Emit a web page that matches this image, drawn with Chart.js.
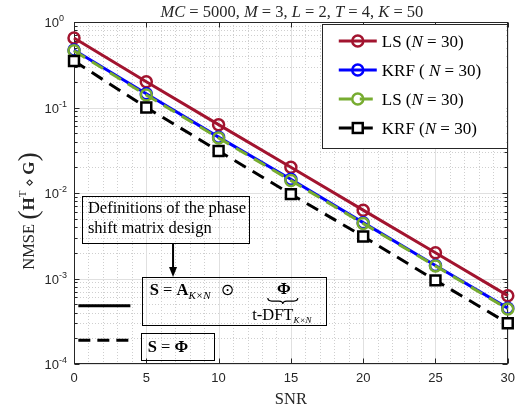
<!DOCTYPE html>
<html>
<head>
<meta charset="utf-8">
<script src="https://cdn.jsdelivr.net/npm/chart.js@4.4.1/dist/chart.umd.min.js"></script>
<style>
  html, body { margin: 0; padding: 0; background: #fff; }
  #wrap { width: 522px; height: 407px; }
</style>
</head>
<body>
<div id="wrap"><canvas id="c" width="522" height="407"></canvas></div>
<script>
// ---- data ----
const snr = [0, 5, 10, 15, 20, 25, 30];
const lsSolid = [0.65, 0.20, 0.063, 0.020, 0.0063, 0.0020, 0.00063];
const krfSolid = [0.47, 0.145, 0.045, 0.0145, 0.0045, 0.00142, 0.00045];
const lsDashed = [0.46, 0.14, 0.044, 0.014, 0.0044, 0.0014, 0.00044];
const krfDashed = [0.35, 0.10, 0.031, 0.0097, 0.0031, 0.00095, 0.00030];
const yDecades = [-4, -3, -2, -1, 0];
const xTicks = [0, 5, 10, 15, 20, 25, 30];

const SERIF = '"Liberation Serif", "DejaVu Serif", serif';
const SANS = '"Liberation Sans", Arial, sans-serif';
const AXIS = '#262626';
const RED = '#A2142F', BLUE = '#0000FF', GREEN = '#77AC30', BLACK = '#000000';

function pts(vals) {
    return snr.map((s, i) => ({ x: s, y: vals[i] }));
}

// draws a list of [text, font, dy] pieces, returns width
function drawRich(ctx, segs, x, y, align) {
    let w = 0;
    segs.forEach(s => { ctx.font = s[1]; w += ctx.measureText(s[0]).width; });
    let cx = align === 'center' ? x - w / 2 : (align === 'right' ? x - w : x);
    segs.forEach(s => {
        ctx.font = s[1];
        ctx.fillText(s[0], cx, y + (s[2] || 0));
        cx += ctx.measureText(s[0]).width;
    });
    return w;
}

function seg(ctx, x1, y1, x2, y2) {
    ctx.beginPath();
    ctx.moveTo(x1, y1);
    ctx.lineTo(x2, y2);
    ctx.stroke();
}

const datasets = [
    { label: 'LS (N = 30)', data: pts(lsSolid), color: RED, dash: [], style: 'circle', order: 4 },
    { label: 'KRF ( N = 30)', data: pts(krfSolid), color: BLUE, dash: [], style: 'circle', order: 3 },
    { label: 'LS (N = 30)', data: pts(lsDashed), color: GREEN, dash: [13, 8], style: 'circle', order: 2 },
    { label: 'KRF (N = 30)', data: pts(krfDashed), color: BLACK, dash: [13, 8], style: 'rect', order: 1 }
].map(d => ({
    label: d.label,
    data: d.data,
    order: d.order,
    clip: false,
    borderColor: d.color,
    borderWidth: 3,
    borderDash: d.dash,
    pointStyle: d.style,
    pointRadius: d.style === 'rect' ? 7 : 5.5,
    pointBorderWidth: 2.5,
    pointBorderColor: d.color,
    pointBackgroundColor: d.style === 'rect' ? '#fff' : 'rgba(0,0,0,0)',
    tension: 0,
    fill: false
}));

/**
 * grid, frame, tick labels, title, legend and the annotation boxes
 */
const matlabLook = {
    id: 'matlabLook',
    beforeDatasetsDraw(chart) {
        const { ctx, chartArea: a, scales: { x, y } } = chart;
        ctx.save();
        ctx.lineWidth = 1;
        // minor grid (dotted)
        ctx.strokeStyle = '#cfcfcf';
        ctx.setLineDash([1, 2]);
        for (let v = 1; v < 30; v++) {
            if (v % 5 === 0) continue;
            const px = Math.round(x.getPixelForValue(v)) + 0.5;
            seg(ctx, px, a.top, px, a.bottom);
        }
        for (let d = -4; d < 0; d++) {
            for (let k = 2; k < 10; k++) {
                const py = Math.round(y.getPixelForValue(k * Math.pow(10, d))) + 0.5;
                seg(ctx, a.left, py, a.right, py);
            }
        }
        // major grid
        ctx.setLineDash([]);
        ctx.strokeStyle = '#e0e0e0';
        xTicks.forEach(v => {
            const px = Math.round(x.getPixelForValue(v)) + 0.5;
            seg(ctx, px, a.top, px, a.bottom);
        });
        yDecades.forEach(d => {
            const py = Math.round(y.getPixelForValue(Math.pow(10, d))) + 0.5;
            seg(ctx, a.left, py, a.right, py);
        });
        // frame + inward ticks
        ctx.strokeStyle = AXIS;
        const L = Math.round(a.left) + 0.5, R = Math.round(a.right) - 0.5;
        const T = Math.round(a.top) + 0.5, B = Math.round(a.bottom) - 0.5;
        ctx.strokeRect(L, T, R - L, B - T);
        xTicks.forEach(v => {
            const px = Math.round(x.getPixelForValue(v)) + 0.5;
            seg(ctx, px, B, px, B - 5);
            seg(ctx, px, T, px, T + 5);
        });
        for (let d = -4; d <= 0; d++) {
            const py = Math.round(y.getPixelForValue(Math.pow(10, d))) + 0.5;
            seg(ctx, L, py, L + 5, py);
            seg(ctx, R, py, R - 5, py);
            if (d === 0) continue;
            for (let k = 2; k < 10; k++) {
                const pm = Math.round(y.getPixelForValue(k * Math.pow(10, d))) + 0.5;
                seg(ctx, L, pm, L + 3, pm);
                seg(ctx, R, pm, R - 3, pm);
            }
        }
        ctx.restore();
    },
    afterDatasetsDraw(chart) {
        const { ctx, chartArea: a, scales: { x, y } } = chart;
        const X = v => x.getPixelForValue(v);
        const Y = v => y.getPixelForValue(v);
        ctx.save();

        // y tick labels 10^n
        ctx.fillStyle = AXIS;
        ctx.textBaseline = 'alphabetic';
        yDecades.forEach(d => {
            const py = Y(Math.pow(10, d));
            ctx.font = '13px ' + SANS;
            ctx.textAlign = 'right';
            ctx.fillText('10', a.left - 15, py + 5);
            ctx.font = '9px ' + SANS;
            ctx.textAlign = 'left';
            ctx.fillText(d === 0 ? '0' : '-' + Math.abs(d), a.left - 15, py - 1);
        });
        ctx.textAlign = 'left';

        // title
        const it = 'italic 16.5px ' + SERIF, rm = '16.5px ' + SERIF;
        drawRich(ctx, [['MC', it], [' = 5000, ', rm], ['M', it], [' = 3, ', rm], ['L', it],
            [' = 2, ', rm], ['T', it], [' = 4, ', rm], ['K', it], [' = 50', rm]],
            (a.left + a.right) / 2 + 1, 17, 'center');

        // x title
        drawRich(ctx, [['SNR', rm]], (a.left + a.right) / 2, 404, 'center');

        // y title (rotated)
        ctx.save();
        ctx.translate(34, 211);
        ctx.rotate(-Math.PI / 2);
        const bd = 'bold 16.5px ' + SERIF;
        drawRich(ctx, [['NMSE ', rm], ['(', '28px ' + SERIF, 3], ['H', 'bold 17px ' + SERIF], ['T', '11px ' + SERIF, -8],
            [' \u22C4 ', '14px ' + SERIF], ['G', 'bold 17px ' + SERIF], [')', '28px ' + SERIF, 3]], 0, 0, 'center');
        ctx.restore();

        // legend
        const lx = a.right - 186, ly = a.top + 2, lw = 185, lh = 124;
        const lf = '17px ' + SERIF, lfi = 'italic 17px ' + SERIF;
        ctx.fillStyle = '#fff';
        ctx.fillRect(lx, ly, lw, lh);
        ctx.strokeStyle = AXIS;
        ctx.lineWidth = 1;
        ctx.strokeRect(Math.round(lx) + 0.5, Math.round(ly) + 0.5, lw, lh);
        const rows = [
            [['LS (', lf], ['N', lfi], [' = 30)', lf]],
            [['KRF ( ', lf], ['N', lfi], [' = 30)', lf]],
            [['LS (', lf], ['N', lfi], [' = 30)', lf]],
            [['KRF (', lf], ['N', lfi], [' = 30)', lf]]
        ];
        chart.data.datasets.forEach((ds, i) => {
            const ry = ly + 17 + i * 29;
            const x0 = lx + 17, x1 = lx + 55, xm = (x0 + x1) / 2;
            ctx.strokeStyle = ds.borderColor;
            ctx.lineWidth = 3;
            ctx.setLineDash(ds.borderDash);
            seg(ctx, x0, ry, x1, ry);
            ctx.setLineDash([]);
            ctx.lineWidth = ds.pointBorderWidth;
            if (ds.pointStyle === 'rect') {
                const s = ds.pointRadius * Math.SQRT1_2;
                ctx.fillStyle = '#fff';
                ctx.fillRect(xm - s, ry - s, 2 * s, 2 * s);
                ctx.strokeRect(xm - s, ry - s, 2 * s, 2 * s);
            } else {
                ctx.beginPath();
                ctx.arc(xm, ry, ds.pointRadius, 0, Math.PI * 2);
                ctx.stroke();
            }
            ctx.fillStyle = '#000';
            drawRich(ctx, rows[i], lx + 60, ry + 6, 'left');
        });

        // annotation: reference line styles
        ctx.strokeStyle = '#000';
        ctx.lineWidth = 3;
        seg(ctx, X(0.3), Y(4.8e-4), X(3.9), Y(4.8e-4));
        ctx.setLineDash([12, 7]);
        seg(ctx, X(0.3), Y(1.9e-4), X(3.9), Y(1.9e-4));
        ctx.setLineDash([]);

        // annotation boxes
        ctx.lineWidth = 1;
        ctx.strokeStyle = '#000';
        ctx.fillStyle = '#000';
        const box = (x0, y0, x1, y1) => {
            ctx.strokeRect(Math.round(X(x0)) + 0.5, Math.round(Y(y0)) + 0.5,
                Math.round(X(x1) - X(x0)), Math.round(Y(y1) - Y(y0)));
        };
        box(0.55, 9.2e-3, 12.1, 2.6e-3);
        drawRich(ctx, [['Definitions of the phase', rm]], X(0.55) + 6, Y(9.2e-3) + 17, 'left');
        drawRich(ctx, [['shift matrix design', rm]], X(0.55) + 6, Y(9.2e-3) + 37, 'left');

        // arrow
        const ax = X(6.85);
        ctx.lineWidth = 2;
        seg(ctx, ax, Y(2.6e-3), ax, Y(1.04e-3) - 9);
        ctx.beginPath();
        ctx.moveTo(ax - 4, Y(1.04e-3) - 10);
        ctx.lineTo(ax + 4, Y(1.04e-3) - 10);
        ctx.lineTo(ax, Y(1.04e-3));
        ctx.closePath();
        ctx.fill();

        ctx.lineWidth = 1;
        box(4.69, 1.04e-3, 17.45, 2.86e-4);
        const bx = X(4.69), by = Y(1.04e-3);
        const sub = 'italic 11px ' + SERIF;
        drawRich(ctx, [['S', bd], [' = ', rm], ['A', bd], ['K\u00D7N', sub, 4], ['  \u2299', '16px "DejaVu Sans", sans-serif']],
            bx + 8, by + 18, 'left');
        drawRich(ctx, [['\u03A6', bd]], bx + 142, by + 17, 'center');
        // brace under Phi
        const c0 = bx + 126, c1 = bx + 156, cm = (c0 + c1) / 2, cy = by + 21;
        ctx.lineWidth = 1.2;
        ctx.beginPath();
        ctx.moveTo(c0, cy);
        ctx.quadraticCurveTo(c0, cy + 3, c0 + 4, cy + 3);
        ctx.lineTo(cm - 4, cy + 3);
        ctx.quadraticCurveTo(cm, cy + 3, cm, cy + 6);
        ctx.quadraticCurveTo(cm, cy + 3, cm + 4, cy + 3);
        ctx.lineTo(c1 - 4, cy + 3);
        ctx.quadraticCurveTo(c1, cy + 3, c1, cy);
        ctx.stroke();
        drawRich(ctx, [['t-DFT', rm], ['K\u00D7N', 'italic 9px ' + SERIF, 3]], bx + 140, by + 43, 'center');

        ctx.lineWidth = 1;
        box(4.62, 2.3e-4, 9.66, 1.11e-4);
        drawRich(ctx, [['S', bd], [' = ', rm], ['\u03A6', bd]], X(4.62) + 7, Y(2.3e-4) + 19, 'left');

        ctx.restore();
    }
};

const chart = new Chart(document.getElementById('c'), {
    type: 'line',
    data: { datasets: datasets },
    options: {
        responsive: false,
        animation: false,
        layout: { padding: { top: 22, right: 13, left: 0, bottom: 0 } },
        plugins: { legend: { display: false }, tooltip: { enabled: false } },
        scales: {
            x: {
                type: 'linear',
                min: 0,
                max: 30,
                grid: { display: false, drawTicks: false },
                border: { display: false },
                ticks: {
                    stepSize: 5,
                    padding: 7,
                    color: AXIS,
                    font: { family: SANS, size: 13 },
                    maxRotation: 0
                },
                afterFit(scale) { scale.height = 43; }
            },
            y: {
                type: 'logarithmic',
                min: 1e-4,
                max: 1,
                grid: { display: false, drawTicks: false },
                border: { display: false },
                ticks: { display: false },
                afterFit(scale) { scale.width = 74; }
            }
        }
    },
    plugins: [matlabLook]
});
</script>
</body>
</html>
